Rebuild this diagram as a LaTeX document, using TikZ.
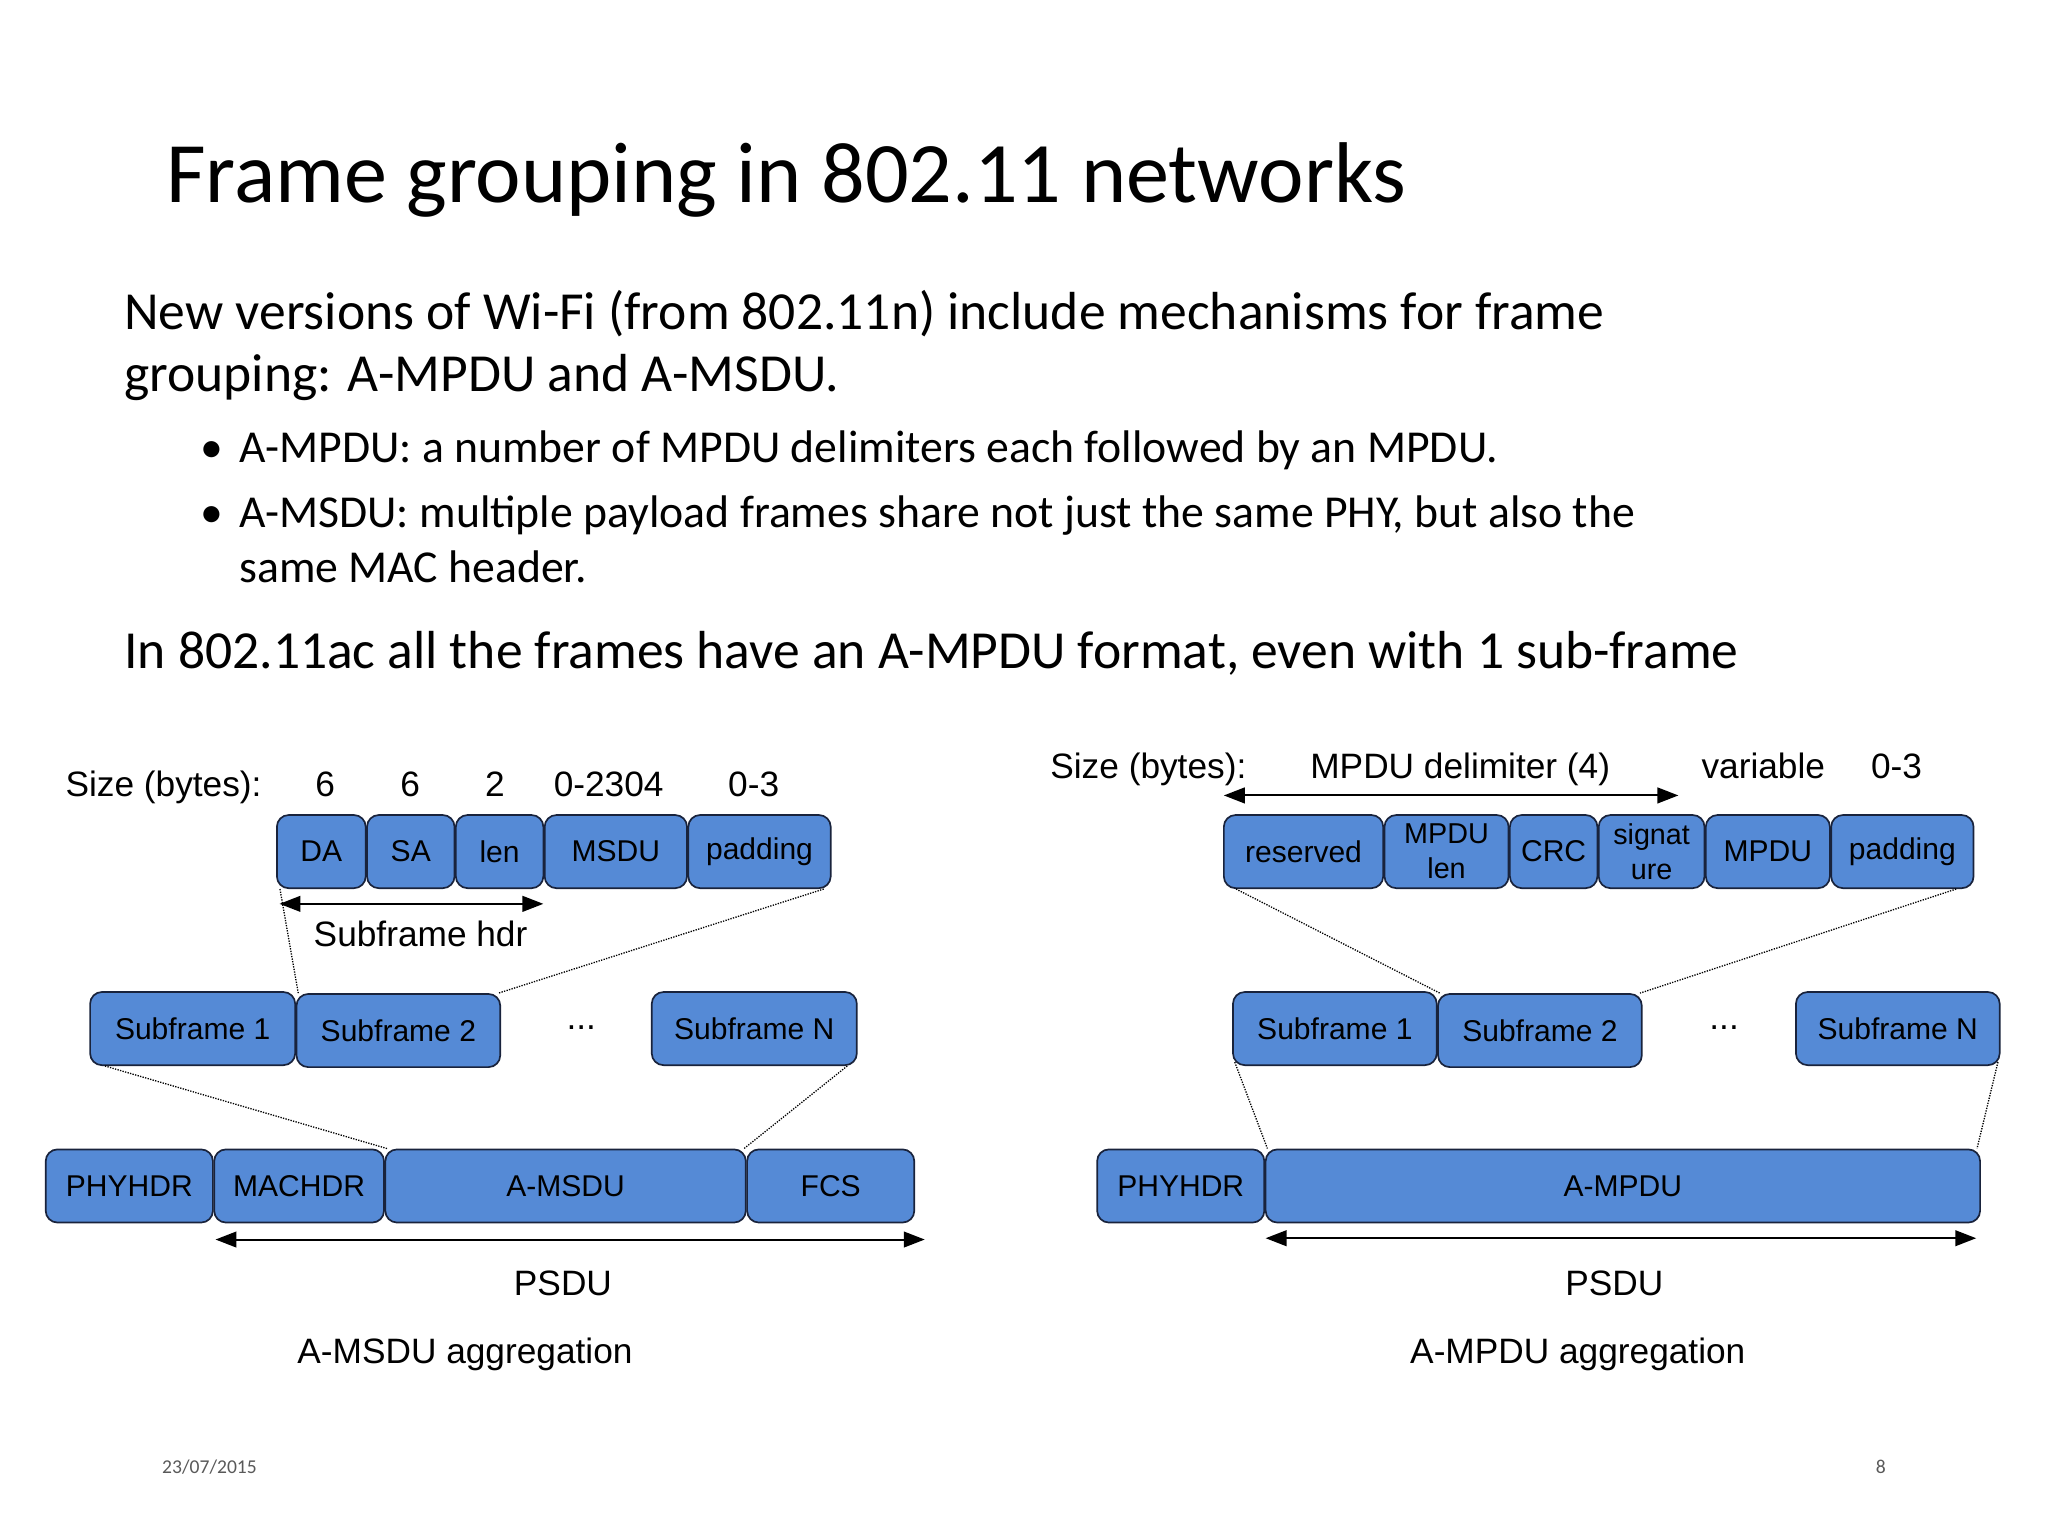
\documentclass[tikz,border=0pt]{standalone}
\usepackage{fontspec}
\setmainfont{Carlito}
\newfontfamily\arialf{Liberation Sans}
\usetikzlibrary{arrows.meta}
\definecolor{boxblue}{RGB}{85,138,214}
\definecolor{boxline}{RGB}{25,35,60}
\tikzset{
 box/.style={draw=boxline,line width=1.3pt,fill=boxblue,rounded corners=9pt,minimum height=56pt,inner sep=0pt,font=\arialf\fontsize{23}{25}\selectfont,align=center},
 lbl/.style={font=\arialf\fontsize{27}{30}\selectfont,inner sep=0pt},
 dotl/.style={densely dotted,line width=1pt},
 dim/.style={{Triangle[length=16pt,width=12pt]}-{Triangle[length=16pt,width=12pt]},line width=1.5pt}
}
\begin{document}
\begin{tikzpicture}[x=1pt,y=-1pt]
\useasboundingbox (0,0) rectangle (1568,1176);
\node[anchor=base west,inner sep=0pt,font=\fontsize{66}{70}\selectfont] (title) at (127,155) {Frame grouping in 802.11 networks};
\node[anchor=base west,inner sep=0pt,font=\fontsize{41}{45}\selectfont] (l1) at (95,252) {New versions of Wi-Fi (from 802.11n) include mechanisms for frame};
\node[anchor=base west,inner sep=0pt,font=\fontsize{41}{45}\selectfont] (l2) at (95,300) {grouping: A-MPDU and A-MSDU.};
\node[anchor=base west,inner sep=0pt,font=\fontsize{35}{40}\selectfont] (b1) at (153,354) {•};
\node[anchor=base west,inner sep=0pt,font=\fontsize{35}{40}\selectfont] (t1) at (183,354) {A-MPDU: a number of MPDU delimiters each followed by an MPDU.};
\node[anchor=base west,inner sep=0pt,font=\fontsize{35}{40}\selectfont] (b2) at (153,404) {•};
\node[anchor=base west,inner sep=0pt,font=\fontsize{35}{40}\selectfont] (t2) at (183,404) {A-MSDU: multiple payload frames share not just the same PHY, but also the};
\node[anchor=base west,inner sep=0pt,font=\fontsize{35}{40}\selectfont] (t3) at (183,446) {same MAC header.};
\node[anchor=base west,inner sep=0pt,font=\fontsize{41}{45}\selectfont] (l3) at (95,512) {In 802.11ac all the frames have an A-MPDU format, even with 1 sub-frame};
\node[anchor=base west,inner sep=0pt,font=\fontsize{15}{17}\selectfont,text=black!65] (date) at (124,1128) {23/07/2015};
\node[anchor=base,inner sep=0pt,font=\fontsize{15}{17}\selectfont,text=black!65] (pg) at (1440,1128) {8};

% ---------- left: A-MSDU ----------
\node[lbl,anchor=base west] (sz1) at (50,610) {Size (bytes):};
\node[lbl,anchor=base] (n1) at (249,610) {6};
\node[lbl,anchor=base] (n2) at (314,610) {6};
\node[lbl,anchor=base] (n3) at (379,610) {2};
\node[lbl,anchor=base] (n4) at (466,610) {0-2304};
\node[lbl,anchor=base] (n5) at (577,610) {0-3};
\node[box,minimum width=68] (da) at (246,652) {DA};
\node[box,minimum width=67] (sa) at (314.5,652) {SA};
\node[box,minimum width=67] (len) at (382.5,652) {len};
\node[box,minimum width=109] (msdu) at (471.5,652) {MSDU};
\node[box,minimum width=109] (pad) at (581.5,652) {padding};
\coordinate (ha) at (214,692);
\coordinate (hb) at (416,692);
\draw[dim] (ha) -- (hb);
\node[lbl,anchor=base] (sfh) at (322,725) {Subframe hdr};
\node[box,minimum width=157] (s1) at (147.5,787.5) {Subframe 1};
\node[box,minimum width=156] (s2) at (305,789) {Subframe 2};
\node[lbl] (dots1) at (445,787) {...};
\node[box,minimum width=157] (sn) at (577.5,787.5) {Subframe N};
\node[box,minimum width=128] (phy1) at (99,908) {PHYHDR};
\node[box,minimum width=130] (mac) at (229,908) {MACHDR};
\node[box,minimum width=276] (amsdu) at (433,908) {A-MSDU};
\node[box,minimum width=128] (fcs) at (636,908) {FCS};
\coordinate (pa) at (165,949);
\coordinate (pb) at (708,949);
\draw[dim] (pa) -- (pb);
\node[lbl,anchor=base] (psdu1) at (431,992) {PSDU};
\node[lbl,anchor=base] (cap1) at (356,1044) {A-MSDU aggregation};
\draw[dotl] ([xshift=3pt]da.south west) -- ([xshift=2pt]s2.north west);
\draw[dotl] ([xshift=-6pt]pad.south east) -- ([xshift=-2pt]s2.north east);
\draw[dotl] ([xshift=12pt]s1.south west) -- ([xshift=2pt]amsdu.north west);
\draw[dotl] ([xshift=-8pt]sn.south east) -- ([xshift=-2pt]amsdu.north east);

% ---------- right: A-MPDU ----------
\node[lbl,anchor=base west] (sz2) at (804,596) {Size (bytes):};
\node[lbl,anchor=base] (del) at (1118,596) {MPDU delimiter (4)};
\node[lbl,anchor=base] (var) at (1350,596) {variable};
\node[lbl,anchor=base] (z3) at (1452,596) {0-3};
\coordinate (da2) at (937,609);
\coordinate (db2) at (1285,609);
\draw[dim] (da2) -- (db2);
\node[box,minimum width=122] (res) at (998,652) {reserved};
\node[box,minimum width=95,font=\arialf\fontsize{22}{27}\selectfont] (mlen) at (1107.5,652) {MPDU\\len};
\node[box,minimum width=67] (crc) at (1189.5,652) {CRC};
\node[box,minimum width=81,font=\arialf\fontsize{22}{27}\selectfont] (sig) at (1264.5,652) {signat\\ure};
\node[box,minimum width=95] (mpdu) at (1353.5,652) {MPDU};
\node[box,minimum width=109] (pad2) at (1456.5,652) {padding};
\node[box,minimum width=156] (r1) at (1022,787.5) {Subframe 1};
\node[box,minimum width=156] (r2) at (1179,789) {Subframe 2};
\node[lbl] (dots2) at (1320,787) {...};
\node[box,minimum width=156] (rn) at (1453,787.5) {Subframe N};
\node[box,minimum width=128] (phy2) at (904,908) {PHYHDR};
\node[box,minimum width=547] (ampdu) at (1242.5,908) {A-MPDU};
\coordinate (qa) at (969,948);
\coordinate (qb) at (1513,948);
\draw[dim] (qa) -- (qb);
\node[lbl,anchor=base] (psdu2) at (1236,992) {PSDU};
\node[lbl,anchor=base] (cap2) at (1208,1044) {A-MPDU aggregation};
\draw[dotl] ([xshift=10pt]res.south west) -- ([xshift=2pt]r2.north west);
\draw[dotl] ([xshift=-14pt]pad2.south east) -- ([xshift=-2pt]r2.north east);
\draw[dotl] ([xshift=2pt,yshift=3pt]r1.south west) -- ([xshift=2pt]ampdu.north west);
\draw[dotl] ([xshift=-2pt,yshift=3pt]rn.south east) -- ([xshift=-3pt]ampdu.north east);
\end{tikzpicture}
\end{document}
